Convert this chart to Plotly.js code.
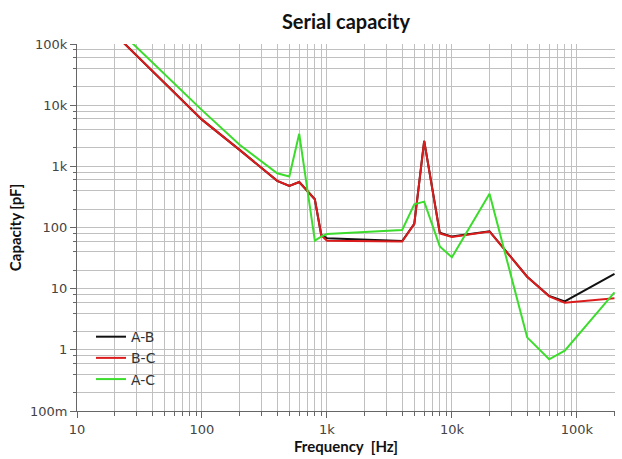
<!DOCTYPE html>
<html>
<head>
<meta charset="utf-8">
<script src="https://cdn.plot.ly/plotly-3.0.1.min.js"></script>
<style>html,body{margin:0;padding:0;background:#fff;}#chart{width:622px;height:459px;}</style>
</head>
<body>
<div id="chart"></div>
<script>
// Frequency points [Hz]
const freq = [20, 50, 100, 200, 400, 500, 600, 800, 900, 1000, 4000, 5000, 6000, 8000, 10000, 20000, 40000, 60000, 80000, 200000];
// Serial capacity [pF]
const capAB = [146000, 23000, 5800, 1860, 580, 480, 555, 290, 76, 67, 60, 115, 2600, 82, 71, 87, 15.7, 7.6, 6.2, 17.4];
const capBC = [146000, 23000, 5800, 1860, 580, 480, 555, 290, 75, 61, 59, 115, 2600, 80, 70, 86, 15.7, 7.5, 5.9, 7.0];
const capAC = [196000, 32000, 8300, 2250, 770, 680, 3400, 61, 71, 78, 91, 240, 265, 49, 32.6, 355, 1.6, 0.70, 0.97, 8.7];

const seriesNames = ['A-B', 'B-C', 'A-C'];
const seriesColors = ['#111111', '#dc1c1c', '#3cdc2c'];

const xTickVals = [10, 100, 1000, 10000, 100000];
const xTickText = ['10', '100', '1k', '10k', '100k'];
const yTickVals = [0.1, 1, 10, 100, 1000, 10000, 100000];
const yTickText = ['100m', '1', '10', '100', '1k', '10k', '100k'];

// minor grid positions
const xMinor = [];
for (let d = 10; d <= 100000; d *= 10) for (let k = 2; k <= 9; k++) xMinor.push(d * k);
const yMinor = [];
for (let d = 0.1; d <= 10000; d *= 10) for (const k of [2, 4, 6, 8]) yMinor.push(+(d * k).toPrecision(3));

const traces = [capAB, capBC, capAC].map((v, i) => ({
  x: freq, y: v, type: 'scatter', mode: 'lines', name: seriesNames[i],
  line: {color: seriesColors[i], width: 2}
}));

const gridCol = '#c0c0c0';
const axisCol = '#666666';
const tickFont = {family: 'DejaVu Sans', size: 13, color: '#444'};

const layout = {
  width: 622, height: 459,
  margin: {l: 77, r: 7, t: 44, b: 48},
  paper_bgcolor: '#fff', plot_bgcolor: '#fff',
  title: {text: '<b>Serial capacity</b>', font: {family: 'Lato', size: 20, color: '#111'},
          x: 0.5, xref: 'paper', y: 0.952, yanchor: 'middle'},
  showlegend: true,
  legend: {x: 0.026, y: 0.245, xanchor: 'left', yanchor: 'top', bgcolor: 'rgba(0,0,0,0)',
           font: {family: 'DejaVu Sans', size: 14, color: '#333'}, tracegroupgap: 0},
  xaxis: {
    type: 'log', range: [1, 5.305], autorange: false,
    tickmode: 'array', tickvals: xTickVals, ticktext: xTickText,
    ticks: 'outside', ticklen: 6, tickcolor: axisCol, tickfont: tickFont,
    showline: true, linecolor: axisCol, linewidth: 1,
    showgrid: true, gridcolor: gridCol, gridwidth: 1, zeroline: false,
    minor: {tickmode: 'array', tickvals: xMinor, ticks: 'outside', ticklen: 4, tickcolor: axisCol,
            showgrid: true, gridcolor: gridCol, gridwidth: 1},
    title: {text: '<b>Frequency  [Hz]</b>', font: {family: 'Lato', size: 15, color: '#111'}, standoff: 4}
  },
  yaxis: {
    type: 'log', range: [-1, 5], autorange: false,
    tickmode: 'array', tickvals: yTickVals, ticktext: yTickText,
    ticks: 'outside', ticklen: 6, tickcolor: axisCol, tickfont: tickFont,
    showline: true, linecolor: axisCol, linewidth: 1,
    showgrid: true, gridcolor: gridCol, gridwidth: 1, zeroline: false,
    minor: {tickmode: 'array', tickvals: yMinor, ticks: 'outside', ticklen: 3, tickcolor: axisCol,
            showgrid: true, gridcolor: gridCol, gridwidth: 1},
    title: {text: '<b>Capacity [pF]</b>', font: {family: 'Lato', size: 15, color: '#111'}, standoff: 4}
  }
};

Plotly.newPlot('chart', traces, layout, {displayModeBar: false, staticPlot: true});
</script>
</body>
</html>
